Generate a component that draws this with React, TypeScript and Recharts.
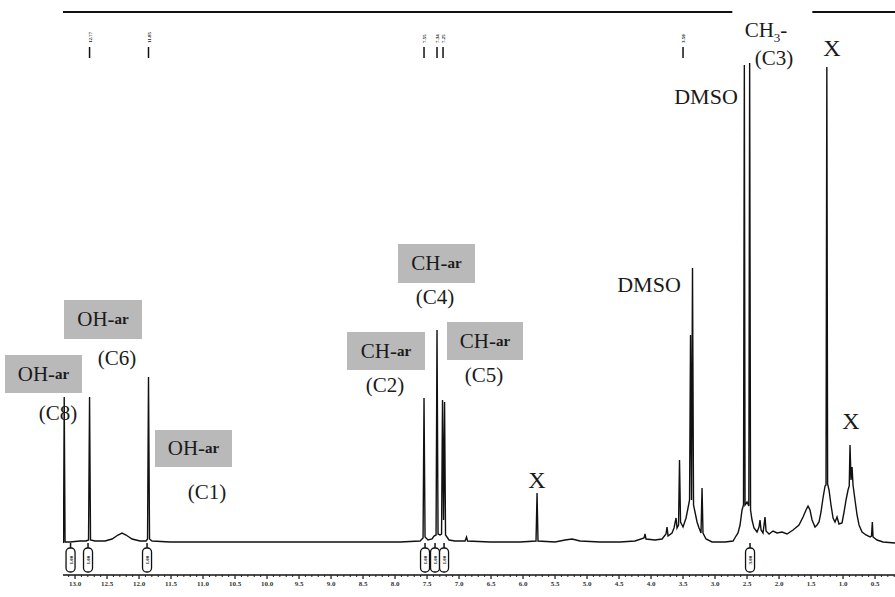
import React from 'react';
import { ComposedChart, Line, Scatter, XAxis, YAxis, ReferenceLine } from 'recharts';

// Chemical shift (ppm) and intensity of the 1H-NMR trace
const specPpm = [
  13.188, 13.180, 13.169, 13.156, 13.078, 12.922, 12.828, 12.789, 12.773, 12.758,
  12.688, 12.531, 12.422, 12.328, 12.266, 12.203, 12.109, 11.984, 11.890, 11.867,
  11.852, 11.836, 11.797, 11.516, 11.047, 10.266, 9.484, 8.703, 7.922, 7.609,
  7.562, 7.547, 7.531, 7.484, 7.422, 7.391, 7.359, 7.344, 7.328, 7.297,
  7.273, 7.258, 7.242, 7.226, 7.211, 7.156, 7.063, 6.906, 6.883, 6.867,
  6.516, 6.047, 5.797, 5.781, 5.766, 5.500, 5.344, 5.234, 5.109, 4.797,
  4.484, 4.250, 4.109, 4.094, 4.078, 3.938, 3.828, 3.766, 3.750, 3.734,
  3.672, 3.641, 3.609, 3.594, 3.570, 3.555, 3.539, 3.500, 3.453, 3.422,
  3.398, 3.383, 3.367, 3.352, 3.336, 3.313, 3.281, 3.250, 3.219, 3.203,
  3.188, 3.141, 3.047, 2.844, 2.719, 2.672, 2.641, 2.609, 2.578, 2.555,
  2.542, 2.531, 2.500, 2.472, 2.459, 2.445, 2.422, 2.391, 2.344, 2.313,
  2.297, 2.281, 2.250, 2.219, 2.203, 2.156, 2.094, 2.031, 1.953, 1.875,
  1.781, 1.688, 1.625, 1.578, 1.547, 1.516, 1.484, 1.438, 1.406, 1.375,
  1.344, 1.313, 1.281, 1.266, 1.253, 1.241, 1.219, 1.188, 1.156, 1.125,
  1.094, 1.063, 1.016, 0.984, 0.953, 0.922, 0.903, 0.891, 0.875, 0.859,
  0.844, 0.813, 0.781, 0.750, 0.703, 0.641, 0.578, 0.555, 0.542, 0.531,
  0.469, 0.375, 0.188,
];
const specInt = [
  0, 1, 146, 1, 1, 2, 2, 3, 146, 3,
  2, 2, 4, 8, 10, 8, 4, 2, 2, 4,
  166, 4, 2, 1, 1, 1, 1, 1, 1, 2,
  5, 145, 6, 3, 4, 7, 8, 213, 9, 8,
  9, 143, 23, 141, 8, 3, 2, 2, 6, 2,
  1, 1, 2, 50, 2, 1, 3, 4, 2, 1,
  1, 2, 5, 9, 4, 3, 4, 9, 16, 7,
  10, 15, 25, 15, 18, 83, 21, 16, 25, 35,
  43, 208, 43, 275, 38, 31, 21, 15, 10, 55,
  10, 4, 1, 1, 2, 7, 10, 18, 33, 38,
  478, 38, 41, 37, 480, 33, 23, 15, 11, 16,
  23, 13, 10, 26, 12, 9, 12, 10, 11, 9,
  13, 18, 26, 33, 37, 33, 23, 16, 18, 21,
  31, 45, 57, 58, 476, 59, 53, 38, 25, 21,
  26, 19, 20, 31, 43, 53, 57, 98, 63, 76,
  58, 43, 28, 18, 11, 8, 6, 7, 21, 6,
  3, 1, 0,
];

// labelled axis ticks (ppm) and the minor tick grid
const axisTicks = [13.0, 12.5, 12.0, 11.5, 11.0, 10.5, 10.0, 9.5, 9.0, 8.5, 8.0, 7.5, 7.0,
  6.5, 6.0, 5.5, 5.0, 4.5, 4.0, 3.5, 3.0, 2.5, 2.0, 1.5, 1.0, 0.5];
const minorTicks = Array.from({ length: 131 }, (_, i) => Number((13.1 - i * 0.1).toFixed(1)));

// integration marks
const integPpm = [13.07, 12.797, 11.875, 7.531, 7.375, 7.234, 2.453];
const integVal = ['1.00', '1.00', '1.00', '1.00', '1.00', '1.00', '3.00'];
// picked peak marks at top
const markPpm = [12.773, 11.852, 7.547, 7.344, 7.25, 3.5];
const markVal = ['12.77', '11.85', '7.55', '7.34', '7.25', '3.50'];

const X_DOMAIN: [number, number] = [0.188, 13.188];
const Y_DOMAIN: [number, number] = [-32, 531];

const spectrum = specPpm.map((p, i) => ({ ppm: p, h: specInt[i] }));
const integ = integPpm.map((p, i) => ({ ppm: p, h: -17, label: integVal[i] }));
const marks = markPpm.map((p, i) => ({ ppm: p, h: 491, label: markVal[i] }));

const IntegShape = (props: any) => {
  const { cx, cy, payload } = props;
  return (
    <g>
      <line x1={cx} x2={cx} y1={cy - 17} y2={cy - 12} stroke="#111" strokeWidth={1.5} />
      <rect x={cx - 4.5} y={cy - 12} width={9} height={24} rx={4} fill="#fff" stroke="#111" strokeWidth={1.3} />
      <text x={cx + 2} y={cy} transform={`rotate(-90 ${cx + 2} ${cy})`} textAnchor="middle" fontSize={5} fontWeight="bold" fill="#222">
        {payload.label}
      </text>
    </g>
  );
};

const MarkShape = (props: any) => {
  const { cx, cy, payload } = props;
  return (
    <g>
      <line x1={cx} x2={cx} y1={cy - 5} y2={cy + 6} stroke="#111" strokeWidth={1.5} />
      <text x={cx + 2} y={cy - 9} transform={`rotate(-90 ${cx + 2} ${cy - 9})`} textAnchor="start" fontSize={5} fontWeight="bold" fill="#222">
        {payload.label}
      </text>
    </g>
  );
};

const AxisTick = (props: any) => {
  const { x, y, payload } = props;
  const v = payload.value as number;
  const major = axisTicks.some((t) => Math.abs(t - v) < 1e-6);
  return (
    <g>
      <line x1={x} x2={x} y1={y} y2={y + (major ? 4 : 2)} stroke="#222" strokeWidth={major ? 1.3 : 1} />
      {major && (
        <text x={x} y={y + 11} textAnchor="middle" fontSize={7} fontWeight="bold" fill="#333">
          {v.toFixed(1)}
        </text>
      )}
    </g>
  );
};

const GrayBox = ({ left, top, w, h, text }: any) => (
  <div style={{ position: 'absolute', left, top, width: w, height: h, background: '#b9b9b9', display: 'flex', alignItems: 'center', justifyContent: 'center', fontSize: 21, color: '#1a1a1a', whiteSpace: 'nowrap' }}>
    <span>{text}-</span><span style={{ fontSize: 15, fontWeight: 700 }}>ar</span>
  </div>
);

const Txt = ({ x, y, size = 21, children }: any) => (
  <div style={{ position: 'absolute', left: x, top: y, transform: 'translate(-50%, -50%)', fontSize: size, color: '#1a1a1a', whiteSpace: 'nowrap', lineHeight: 1 }}>
    {children}
  </div>
);

export default function App() {
  return (
    <div style={{ position: 'absolute', left: 0, top: 0, width: 895, height: 597, background: '#fff', fontFamily: '"Liberation Serif", "Times New Roman", serif', overflow: 'hidden' }}>
      <ComposedChart width={895} height={597} margin={{ top: 12, right: 0, bottom: 0, left: 63 }}>
        <XAxis type="number" dataKey="ppm" domain={X_DOMAIN} reversed allowDataOverflow
          ticks={minorTicks} interval={0} tickSize={0} tickMargin={0} height={22}
          axisLine={{ stroke: '#111', strokeWidth: 1.6 }} tickLine={false}
          tick={AxisTick} />
        <YAxis type="number" domain={Y_DOMAIN} allowDataOverflow width={0} tick={false} tickLine={false}
          axisLine={{ stroke: '#111', strokeWidth: 1.6 }} />
        <ReferenceLine ifOverflow="visible" stroke="#111" strokeWidth={2}
          segment={[{ x: 13.188, y: 531 }, { x: 2.73, y: 531 }]} />
        <ReferenceLine ifOverflow="visible" stroke="#111" strokeWidth={2}
          segment={[{ x: 1.48, y: 531 }, { x: 0.188, y: 531 }]} />
        <Line data={spectrum} dataKey="h" type="linear" stroke="#111" strokeWidth={1.4}
          dot={false} activeDot={false} isAnimationActive={false} />
        <Scatter data={integ} dataKey="h" shape={IntegShape} isAnimationActive={false} />
        <Scatter data={marks} dataKey="h" shape={MarkShape} isAnimationActive={false} />
      </ComposedChart>

      <GrayBox left={5} top={355} w={77} h={38} text="OH" />
      <Txt x={58} y={413}>(C8)</Txt>
      <GrayBox left={64} top={300} w={78} h={39} text="OH" />
      <Txt x={117} y={358}>(C6)</Txt>
      <GrayBox left={155} top={430} w={77} h={37} text="OH" />
      <Txt x={207} y={492}>(C1)</Txt>
      <GrayBox left={398} top={244} w={77} h={39} text="CH" />
      <Txt x={435} y={297}>(C4)</Txt>
      <GrayBox left={347} top={332} w={78} h={38} text="CH" />
      <Txt x={385} y={385}>(C2)</Txt>
      <GrayBox left={447} top={322} w={76} h={38} text="CH" />
      <Txt x={484} y={375}>(C5)</Txt>
      <Txt x={649} y={285} size={22}>DMSO</Txt>
      <Txt x={706} y={97} size={22}>DMSO</Txt>
      <Txt x={766} y={32} size={21}>CH<sub style={{ fontSize: 13 }}>3</sub>-</Txt>
      <Txt x={774} y={58} size={21}>(C3)</Txt>
      <Txt x={832} y={48} size={24}>X</Txt>
      <Txt x={851} y={421} size={24}>X</Txt>
      <Txt x={537} y={480} size={24}>X</Txt>
    </div>
  );
}
